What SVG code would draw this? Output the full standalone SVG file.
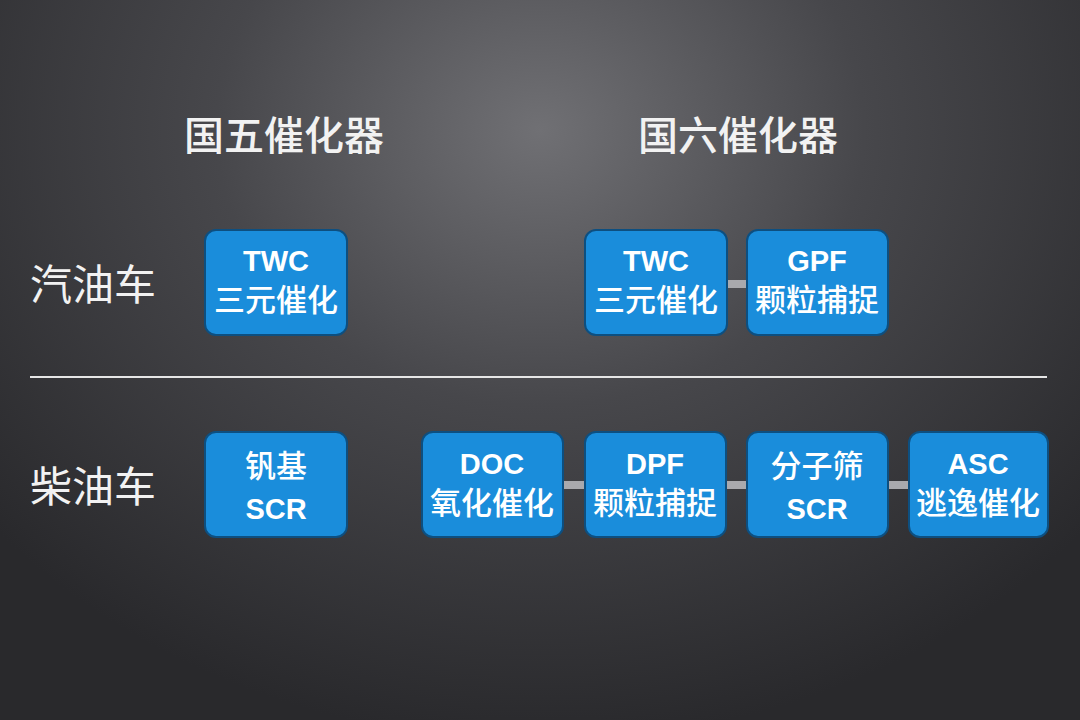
<svg xmlns="http://www.w3.org/2000/svg" width="1080" height="720" viewBox="0 0 1080 720">
<defs>
<radialGradient id="bg" cx="540" cy="130" r="720" gradientUnits="userSpaceOnUse" gradientTransform="translate(540 130) scale(1 0.85) translate(-540 -130)">
<stop offset="0" stop-color="#707074"/>
<stop offset="0.45" stop-color="#47474b"/>
<stop offset="1" stop-color="#29292c"/>
</radialGradient>
<style>
.box{fill:#1a8ddb;stroke:#0d4f80;stroke-width:2}
.t{font-family:"Liberation Sans","Noto Sans CJK SC",sans-serif;font-size:29px;font-weight:bold;fill:#fff;text-anchor:middle}
.z{font-family:"Noto Sans CJK SC",sans-serif;font-size:31px;font-weight:500;fill:#fff;text-anchor:middle}
.h{font-family:"Noto Sans CJK SC",sans-serif;font-size:40px;font-weight:500;fill:#f2f2f2;text-anchor:middle}
.r{font-family:"Noto Sans CJK SC",sans-serif;font-size:42px;fill:#f2f2f2}
.c{fill:#a9a9ad}
</style>
</defs>
<rect width="1080" height="720" fill="url(#bg)"/>
<text class="h" x="284" y="150">国五催化器</text>
<text class="h" x="738" y="150">国六催化器</text>
<text class="r" x="30" y="300">汽油车</text>
<text class="r" x="30" y="502">柴油车</text>
<line x1="30" y1="377" x2="1047" y2="377" stroke="#e6e6e6" stroke-width="2"/>
<g id="connectors">
<rect class="c" x="727" y="280" width="20" height="8"/>
<rect class="c" x="563" y="481" width="22" height="8"/>
<rect class="c" x="726" y="481" width="21" height="8"/>
<rect class="c" x="888" y="481" width="21" height="8"/>
</g>
<g id="n-g5-gas"><rect class="box" x="205" y="230" width="142" height="105" rx="11"/><text class="t" x="276" y="271">TWC</text><text class="z" x="276" y="311">三元催化</text></g>
<g id="n-g6-twc"><rect class="box" x="585" y="230" width="142" height="105" rx="11"/><text class="t" x="656" y="271">TWC</text><text class="z" x="656" y="311">三元催化</text></g>
<g id="n-g6-gpf"><rect class="box" x="747" y="230" width="141" height="105" rx="11"/><text class="t" x="817" y="271">GPF</text><text class="z" x="817" y="311">颗粒捕捉</text></g>
<g id="n-g5-diesel"><rect class="box" x="205" y="432" width="142" height="105" rx="11"/><text class="z" x="276" y="477">钒基</text><text class="t" x="276" y="519">SCR</text></g>
<g id="n-doc"><rect class="box" x="422" y="432" width="141" height="105" rx="11"/><text class="t" x="492" y="474">DOC</text><text class="z" x="492" y="514">氧化催化</text></g>
<g id="n-dpf"><rect class="box" x="585" y="432" width="141" height="105" rx="11"/><text class="t" x="655" y="474">DPF</text><text class="z" x="655" y="514">颗粒捕捉</text></g>
<g id="n-scr"><rect class="box" x="747" y="432" width="141" height="105" rx="11"/><text class="z" x="817" y="477">分子筛</text><text class="t" x="817" y="519">SCR</text></g>
<g id="n-asc"><rect class="box" x="909" y="432" width="139" height="105" rx="11"/><text class="t" x="978" y="474">ASC</text><text class="z" x="978" y="514">逃逸催化</text></g>
</svg>
